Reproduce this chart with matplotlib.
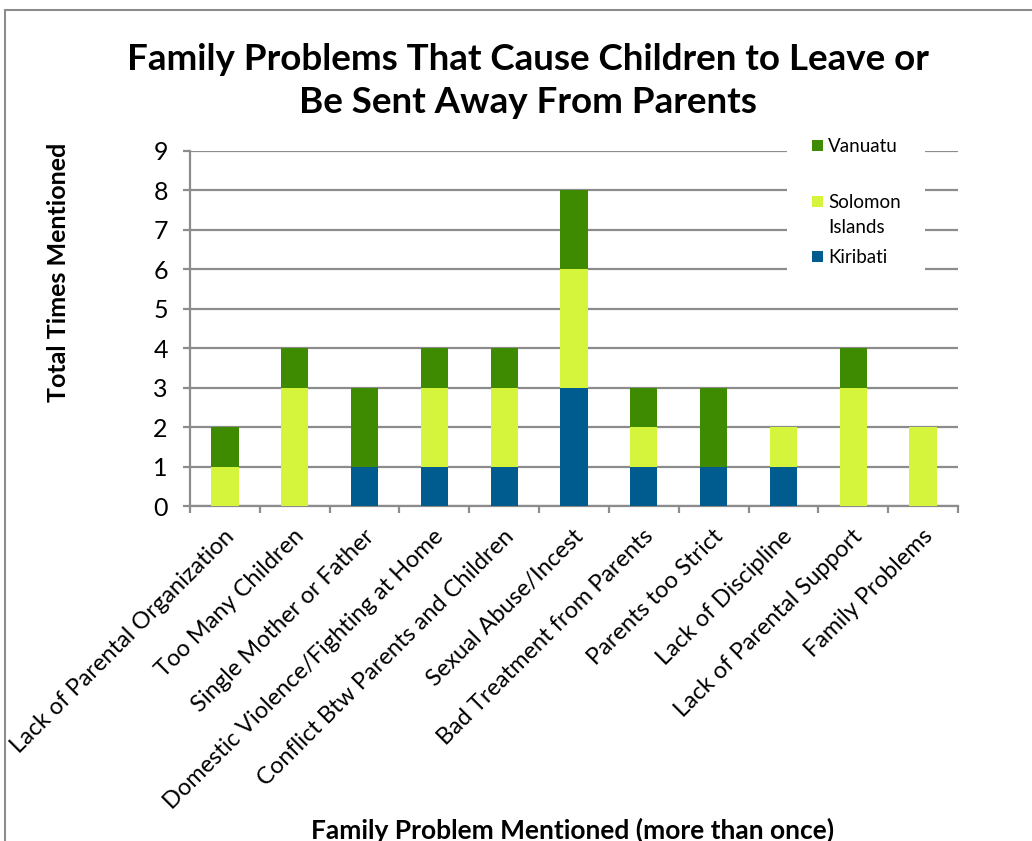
import numpy as np
import matplotlib
matplotlib.use("Agg")
from matplotlib import pyplot as plt
from matplotlib.patches import Rectangle
from matplotlib.transforms import ScaledTranslation

plt.rcParams['font.family'] = ['Lato', 'DejaVu Sans']

categories = ['Lack of Parental Organization', 'Too Many Children', 'Single Mother or Father',
              'Domestic Violence/Fighting at Home', 'Conflict Btw Parents and Children',
              'Sexual Abuse/Incest', 'Bad Treatment from Parents', 'Parents too Strict',
              'Lack of Discipline', 'Lack of Parental Support', 'Family Problems']
kiribati = [0, 0, 1, 1, 1, 3, 1, 1, 1, 0, 0]
solomon = [1, 3, 0, 2, 2, 3, 1, 0, 1, 3, 2]
vanuatu = [1, 1, 2, 1, 1, 2, 1, 2, 0, 1, 0]

c_kir = '#005B8E'
c_sol = '#D4F53C'
c_van = '#3E8A00'
grid_c = '#8C8C8C'

W, H = 1032, 841
fig = plt.figure(figsize=(W / 100, H / 100), dpi=100)
ax = fig.add_axes([190 / W, 1 - 506 / H, 768 / W, 355 / H])

x = np.arange(len(categories))
w = 0.39
k = np.array(kiribati)
s = np.array(solomon)
v = np.array(vanuatu)
ax.bar(x, k, w, color=c_kir, zorder=3)
ax.bar(x, s, w, bottom=k, color=c_sol, zorder=3)
ax.bar(x, v, w, bottom=k + s, color=c_van, zorder=3)

ax.set_xlim(-0.5, len(categories) - 0.5)
ax.set_ylim(0, 9)
ax.set_yticks(range(10))
ax.yaxis.grid(True, color=grid_c, linewidth=1.6, zorder=0)
for sp in ['top', 'right']:
    ax.spines[sp].set_visible(False)
for sp in ['left', 'bottom']:
    ax.spines[sp].set_color(grid_c)
    ax.spines[sp].set_linewidth(1.6)
ax.tick_params(axis='y', length=5, width=1.6, color=grid_c, labelsize=18, pad=11)

# category boundary ticks
ax.set_xticks(np.arange(len(categories) + 1) - 0.5)
ax.set_xticklabels([])
ax.tick_params(axis='x', which='major', length=5, width=1.6, color=grid_c, direction='out')
ax.set_xticks(x, minor=True)
ax.set_xticklabels(categories, minor=True, rotation=45, ha='right',
                   rotation_mode='anchor', fontsize=17)
ax.tick_params(axis='x', which='minor', length=0, pad=14)
off = ScaledTranslation(-1 / 72, 0, fig.dpi_scale_trans)
for lab in ax.get_xticklabels(minor=True):
    lab.set_transform(lab.get_transform() + off)

fig.text(58 / W, 1 - 272 / H, 'Total Times Mentioned', fontsize=18, fontweight='bold',
         rotation=90, ha='center', va='center')
fig.text(573 / W, 1 - 830 / H, 'Family Problem Mentioned (more than once)', fontsize=19,
         fontweight='bold', ha='center', va='center')

fig.text(528 / W, 1 - 81 / H, 'Family Problems That Cause Children to Leave or\nBe Sent Away From Parents',
         fontsize=26.5, fontweight='bold', ha='center', va='center', linespacing=1.35)

# legend drawn by hand (white box interrupts gridlines)
leg_names = ['Vanuatu', 'Solomon\nIslands', 'Kiribati']
leg_colors = [c_van, c_sol, c_kir]
leg_y = [145, 201, 256]
fig.add_artist(Rectangle((787 / W, 1 - 280 / H), 138 / W, 150 / H, transform=fig.transFigure,
                         facecolor='white', edgecolor='none', zorder=2))
for name, col, yy in zip(leg_names, leg_colors, leg_y):
    fig.add_artist(Rectangle((812 / W, 1 - (yy + 5.5) / H), 11 / W, 11 / H,
                             transform=fig.transFigure, facecolor=col, edgecolor='none', zorder=3))
    fig.text(828 / W, 1 - (yy - 7) / H, name, fontsize=13.5, ha='left', va='top',
             linespacing=1.6, zorder=4)

fig.add_artist(Rectangle((5 / W, -0.1), 1.2, 1.1 - 10 / H, transform=fig.transFigure,
                         fill=False, edgecolor=grid_c, linewidth=1.5))

fig.savefig('out.png', dpi=100)
